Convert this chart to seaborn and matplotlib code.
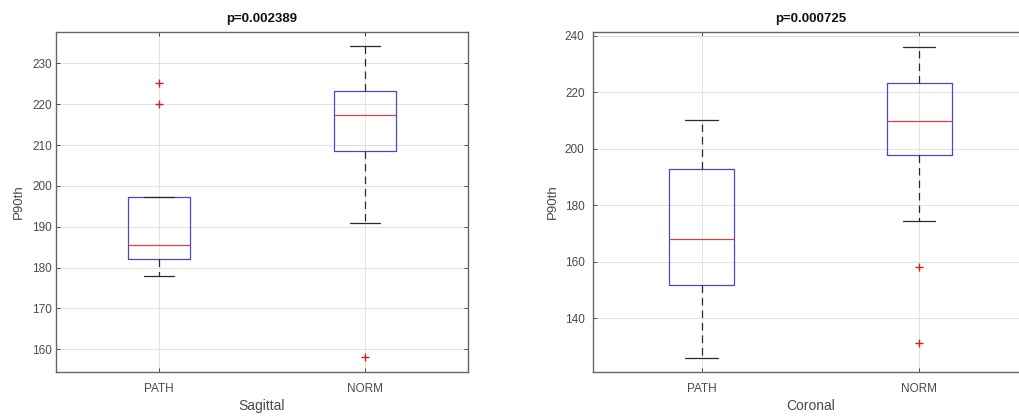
import numpy as np
import pandas as pd
import matplotlib
matplotlib.use("Agg")
import matplotlib.pyplot as plt
import seaborn as sns

# Group labels
groups = ["PATH", "NORM"]

# P90th values per group, sagittal view
sag_path = [178.0, 182.1, 182.1, 185.5, 185.5, 197.2, 197.2, 220.0, 225.3]
sag_norm = [158.0, 191.0, 208.6, 217.3, 217.3, 223.3, 223.3, 234.2, 234.2]

# P90th values per group, coronal view
cor_path = [126.0, 151.7, 168.2, 192.7, 210.2]
cor_norm = [131.2, 158.3, 174.4, 197.8, 197.8, 209.8, 209.8, 209.8,
            223.4, 223.4, 223.4, 236.1, 236.1]

titles = ["p=0.002389", "p=0.000725"]
xlabels = ["Sagittal", "Coronal"]
ylabel = "P90th"
yticks_sag = [160, 170, 180, 190, 200, 210, 220, 230]
yticks_cor = [140, 160, 180, 200, 220, 240]


def long_frame(path_vals, norm_vals):
    return pd.DataFrame({
        "group": [groups[0]] * len(path_vals) + [groups[1]] * len(norm_vals),
        "value": list(path_vals) + list(norm_vals),
    })


sns.set_theme(style="white")
plt.rcParams["font.family"] = ["Liberation Sans", "DejaVu Sans"]

fig = plt.figure(figsize=(10.19, 4.17), dpi=100)
ax1 = fig.add_axes([56 / 1019, 45 / 417, 412 / 1019, 340 / 417])
ax2 = fig.add_axes([592.9 / 1019, 45 / 417, 435 / 1019, 340 / 417])

box_blue = "#4848cc"
txt = "#4a4a4a"

panels = [
    (ax1, long_frame(sag_path, sag_norm), (154.4, 237.7), yticks_sag, 3, 5),
    (ax2, long_frame(cor_path, cor_norm), (121.0, 241.3), yticks_cor, 6, 4),
]

for i, (ax, df, ylim, yt, ypad, ylabpad) in enumerate(panels):
    sns.boxplot(
        data=df, x="group", y="value", order=groups, ax=ax,
        width=0.3, fill=False, linewidth=0.9, whis=1.5,
        boxprops={"color": box_blue},
        medianprops={"color": "#e04040"},
        whiskerprops={"color": "#2a2a2a", "linestyle": (0, (6, 4))},
        capprops={"color": "#2a2a2a"},
        flierprops={"marker": "+", "markeredgecolor": "#d02020",
                    "markersize": 6, "markeredgewidth": 1.0},
    )
    ax.set_ylim(*ylim)
    ax.set_xlim(-0.5, 1.5)
    ax.set_yticks(yt)
    ax.set_xticks([0, 1])
    ax.set_xticklabels(groups)
    ax.set_title(titles[i], fontsize=9.5, fontweight="bold", color="#111111", pad=7)
    ax.set_xlabel(xlabels[i], fontsize=10, color=txt, labelpad=3)
    ax.set_ylabel(ylabel, fontsize=9.5, color=txt, labelpad=ylabpad)
    ax.grid(True, color="#e2e2e2", linewidth=0.7)
    ax.set_axisbelow(True)
    ax.tick_params(axis="both", direction="in", length=3, width=0.7,
                   labelsize=8.5, colors=txt, top=True, right=True,
                   left=True, bottom=True)
    ax.tick_params(axis="y", pad=ypad)
    ax.tick_params(axis="x", pad=8)
    for s in ax.spines.values():
        s.set_visible(True)
        s.set_color("#666666")
        s.set_linewidth(1.0)

fig.savefig("out.png", dpi=100, facecolor="white")
